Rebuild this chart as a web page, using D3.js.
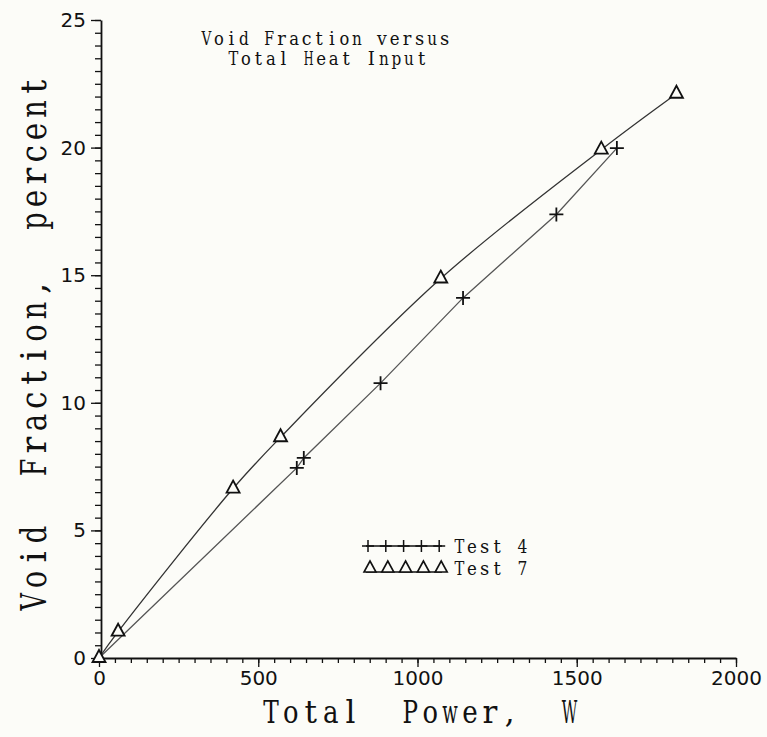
<!DOCTYPE html>
<html>
<head>
<meta charset="utf-8">
<script src="https://cdn.jsdelivr.net/npm/d3@7"></script>
<style>
  body { margin: 0; background: #fcfcf8; }
  svg { display: block; }
</style>
</head>
<body>
<div class="chart"></div>
<script>
// Data
const test4Power = [621, 643, 884, 1143, 1436, 1626];
const test4Void = [7.45, 7.84, 10.77, 14.11, 17.38, 19.98];
const test7Power = [0, 60, 421, 570, 1073, 1577, 1813];
const test7Void = [0, 1.03, 6.64, 8.65, 14.87, 19.92, 22.11];
const xTicks = [0, 500, 1000, 1500, 2000];
const yTicks = [0, 5, 10, 15, 20, 25];
const legendLabels = ['Test 4', 'Test 7'];

// Variables
const width = 767;
const height = 737;
const ink = '#111';
const lineGray = '#555';
const serifFont = '"DejaVu Serif", "Liberation Serif", serif';
const sansFont = '"DejaVu Sans", "Liberation Sans", sans-serif';

const test4 = test4Power.map((p, i) => ({x: p, y: test4Void[i]}));
const test7 = test7Power.map((p, i) => ({x: p, y: test7Void[i]}));

// Scales
const x = d3.scaleLinear().domain([0, 2000]).range([99, 736]);
const y = d3.scaleLinear().domain([0, 25]).range([658, 20]);

const svg = d3.select('.chart').append('svg')
  .attr('width', width)
  .attr('height', height)
  .style('background-color', '#fcfcf8');

// fixed-pitch text, like the plotter font of the original
// wide glyphs get squeezed into their cell
function monoText(parent, str, x0, y0, pitch, size) {
  const cell = pitch * 0.78;
  parent.append('g')
    .attr('fill', ink)
    .style('font-family', serifFont)
    .style('font-size', size + 'px')
    .selectAll('text')
    .data(str.split(''))
    .join('text')
    .attr('x', (d, i) => x0 + pitch * (i + 0.5))
    .attr('y', y0)
    .attr('text-anchor', 'middle')
    .text(d => d)
    .each(function() {
      if (this.getComputedTextLength() > cell) {
        d3.select(this)
          .attr('textLength', cell)
          .attr('lengthAdjust', 'spacingAndGlyphs');
      }
    });
}

// Axes: minor ticks first, then major ticks with labels
const xMinor = d3.range(0, 2001, 50);
const yMinor = d3.range(0, 25.01, 0.5);

svg.append('g')
  .attr('transform', `translate(0,${y(0)})`)
  .call(d3.axisBottom(x).tickValues(xMinor).tickSize(5).tickFormat(''))
  .call(g => g.select('.domain').remove());
svg.append('g')
  .attr('transform', `translate(0,${y(0)})`)
  .call(d3.axisBottom(x).tickValues(xTicks).tickSize(9).tickSizeOuter(0).tickPadding(4).tickFormat(d3.format('d')));

svg.append('g')
  .attr('transform', `translate(${x(0) + 2},0)`)
  .call(d3.axisLeft(y).tickValues(yMinor).tickSize(6).tickFormat(''))
  .call(g => g.select('.domain').remove());
svg.append('g')
  .attr('transform', `translate(${x(0) + 2},0)`)
  .call(d3.axisLeft(y).tickValues(yTicks).tickSize(10).tickSizeOuter(0).tickPadding(5).tickFormat(d3.format('d')));

svg.selectAll('.tick line').attr('stroke', ink).attr('stroke-width', 1.3);
svg.selectAll('.domain').attr('stroke', ink).attr('stroke-width', 1.8);
svg.selectAll('.tick text')
  .attr('fill', ink)
  .style('font-family', sansFont)
  .style('font-size', '20px');

// Lines
const line4 = d3.line()
  .x(d => x(d.x))
  .y(d => y(d.y));
const line7 = d3.line()
  .x(d => x(d.x))
  .y(d => y(d.y))
  .curve(d3.curveCatmullRom.alpha(0.5));

svg.append('path')
  .datum([{x: 0, y: 0}].concat(test4))
  .attr('d', line4)
  .attr('fill', 'none')
  .attr('stroke', lineGray)
  .attr('stroke-width', 1.3);
svg.append('path')
  .datum(test7)
  .attr('d', line7)
  .attr('fill', 'none')
  .attr('stroke', '#333')
  .attr('stroke-width', 1.3);

// Markers
const plusPath = 'M-7,0H7M0,-7V7';
const triPath = 'M0,-8L6.5,4L-6.5,4Z';

svg.append('g')
  .selectAll('path')
  .data(test4)
  .join('path')
  .attr('transform', d => `translate(${x(d.x)},${y(d.y)})`)
  .attr('d', plusPath)
  .attr('stroke', ink)
  .attr('stroke-width', 1.8)
  .attr('fill', 'none');

svg.append('g')
  .selectAll('path')
  .data(test7)
  .join('path')
  .attr('transform', d => `translate(${x(d.x)},${y(d.y)})`)
  .attr('d', triPath)
  .attr('stroke', ink)
  .attr('stroke-width', 1.8)
  .attr('fill', '#fcfcf8');

// Title
monoText(svg, 'Void Fraction versus', 200, 45, 12.55, 18);
monoText(svg, 'Total Heat Input', 227, 65, 12.55, 18);

// Axis titles
monoText(svg, 'Total  Power,  W', 261, 723, 19.9, 31);
const yTitle = svg.append('g')
  .attr('transform', 'translate(46,613) rotate(-90)');
monoText(yTitle, 'Void  Fraction,  percent', 0, 0, 22.4, 35);

// Legend
const legendY = [546, 568];
const legendX = d3.range(5).map(i => 368 + i * 17.8);
const legend = svg.append('g');

legend.append('line')
  .attr('x1', 366).attr('x2', 442)
  .attr('y1', legendY[0]).attr('y2', legendY[0])
  .attr('stroke', ink).attr('stroke-width', 1.5);
legend.append('g')
  .selectAll('path')
  .data(legendX)
  .join('path')
  .attr('transform', d => `translate(${d},${legendY[0]})`)
  .attr('d', 'M-6,0H6M0,-6V6')
  .attr('stroke', ink)
  .attr('stroke-width', 1.5);

legend.append('line')
  .attr('x1', 366).attr('x2', 442)
  .attr('y1', legendY[1] + 4).attr('y2', legendY[1] + 4)
  .attr('stroke', ink).attr('stroke-width', 1.5);
legend.append('g')
  .selectAll('path')
  .data(legendX)
  .join('path')
  .attr('transform', d => `translate(${d + 2},${legendY[1]})`)
  .attr('d', 'M0,-7L6,4L-6,4Z')
  .attr('stroke', ink)
  .attr('stroke-width', 1.6)
  .attr('fill', '#fcfcf8');

legendLabels.forEach((label, i) => {
  monoText(legend, label, 453, legendY[i] + 7, 12.6, 18);
});
</script>
</body>
</html>
